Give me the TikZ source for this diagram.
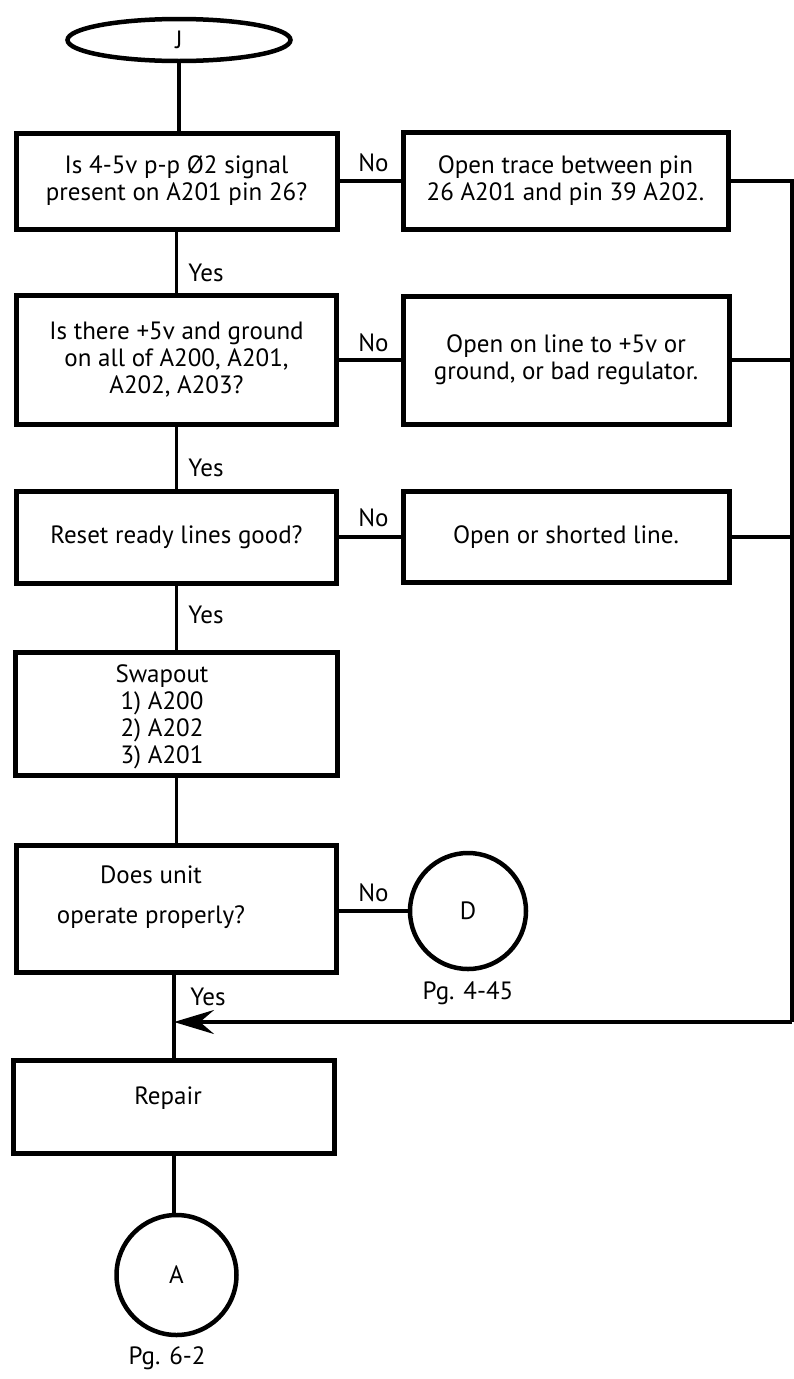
\documentclass[tikz,border=0pt]{standalone}
\usepackage{fontspec}
\setmainfont{PT Sans}
\usetikzlibrary{arrows.meta,shapes.geometric}
\newcommand\myfs{\fontsize{25}{27}\selectfont}
\begin{document}
\begin{tikzpicture}[x=1pt,y=-1pt,
  box/.style={draw,line width=5pt,inner sep=0pt,align=center,font=\myfs},
  conn/.style={line width=3.2pt},
  lbl/.style={inner sep=0pt,font=\myfs},
  term/.style={draw,line width=4.5pt,inner sep=0pt,font=\myfs}]
\useasboundingbox (0,0) rectangle (794,1379);
% terminal
\node[term,ellipse,minimum width=223pt,minimum height=42pt] (J) at (179,40) {J};
% boxes
\node[box,minimum width=321pt,minimum height=96pt] (b1) at (176.5,181)
  {Is 4-5v p-p Ø2 signal\\present on A201 pin 26?};
\node[box,minimum width=325pt,minimum height=97pt] (b2) at (565.5,181)
  {Open trace between pin\\26 A201 and pin 39 A202.};
\node[box,minimum width=320pt,minimum height=129pt] (b3) at (176.5,360)
  {Is there +5v and ground\\on all of A200, A201,\\A202, A203?};
\node[box,minimum width=326pt,minimum height=128pt] (b4) at (566,360)
  {Open on line to +5v or\\ground, or bad regulator.};
\node[box,minimum width=320pt,minimum height=92pt] (b5) at (176.5,537)
  {Reset ready lines good?};
\node[box,minimum width=326pt,minimum height=91pt] (b6) at (566,537)
  {Open or shorted line.};
\node[box,minimum width=322pt,minimum height=123pt] (b7) at (176.5,713.5) {};
\node[lbl,align=center] (b7t) at (162,717) {Swapout\\1) A200\\2) A202\\3) A201};
\node[box,minimum width=320pt,minimum height=127pt] (b8) at (176.5,909) {};
\node[lbl,align=center] (b8t) at (151,897) {Does unit\\[13pt]operate properly?};
\node[box,minimum width=321pt,minimum height=93pt] (b9) at (174,1106.5) {};
\node[lbl] (b9t) at (168,1098) {Repair};
% connectors
\node[term,circle,minimum size=116pt] (D) at (468,911) {D};
\node[term,circle,minimum size=120pt] (A) at (176.5,1275) {A};
% labels
\node[lbl] (no1) at (373.5,163) {No};
\node[lbl] (no2) at (373.5,343) {No};
\node[lbl] (no3) at (373.5,518) {No};
\node[lbl] (no4) at (373.5,893) {No};
\node[lbl] (yes1) at (206,273) {Yes};
\node[lbl] (yes2) at (206,468) {Yes};
\node[lbl] (yes3) at (206,615) {Yes};
\node[lbl] (yes4) at (208,997) {Yes};
\node[lbl] (pgD) at (468,993) {Pg. 4-45};
\node[lbl] (pgA) at (167,1358) {Pg. 6-2};
% lines
\draw[conn] (J.south) -- (J.south |- b1.north);
\draw[conn] (b1.south) -- (b3.north);
\draw[conn] (b3.south) -- (b5.north);
\draw[conn] (b5.south) -- (b7.north);
\draw[conn] (b7.south) -- (b8.north);
\draw[conn] (b8.south -| b9.north) -- (b9.north);
\draw[conn] (b9.south) -- (b9.south |- A.north);
\draw[conn] (b1.east) -- (b2.west);
\draw[conn] (b3.east) -- (b4.west);
\draw[conn] (b5.east) -- (b6.west);
\draw[conn] (b8.east |- D.west) -- (D.west);
\coordinate (rc) at (792,1022);
\coordinate (jn) at (174,1022);
\draw[conn] (b2.east) -- (b2.east -| rc) -- (rc);
\draw[conn] (b4.east) -- (b4.east -| rc);
\draw[conn] (b6.east) -- (b6.east -| rc);
\draw[conn,-{Stealth[length=40pt,width=24pt,inset=14pt]}] (rc) -- (jn);
\end{tikzpicture}
\end{document}
